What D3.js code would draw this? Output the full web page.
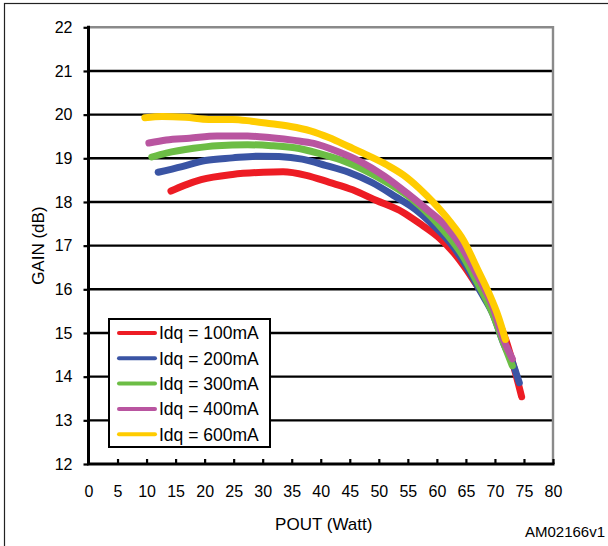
<!DOCTYPE html>
<html>
<head>
<meta charset="utf-8">
<script src="https://cdn.jsdelivr.net/npm/d3@7"></script>
<style>
  body { margin: 0; background: #fff; }
  svg text { font-family: "Liberation Sans", Arial, sans-serif; fill: #000; }
</style>
</head>
<body>
<div id="plot"></div>
<script>
var W = 608, H = 546;

// Series: POUT (Watt) and GAIN (dB)
var pout100 = [14.2, 16.5, 19.4, 24.8, 30.1, 33.5, 37.5, 41.5, 45.5, 49.5, 54.2, 56.9, 60.2, 62.9, 64.9, 66.9, 68.9, 70.7, 72.1, 73.3, 74.0, 74.6];
var gain100 = [18.25, 18.38, 18.51, 18.63, 18.68, 18.69, 18.61, 18.45, 18.28, 18.04, 17.76, 17.52, 17.2, 16.84, 16.49, 16.09, 15.69, 15.25, 14.75, 14.2, 13.85, 13.54];

var pout200 = [12.0, 16.1, 20.1, 24.8, 29.3, 32.8, 36.8, 40.8, 44.8, 48.9, 52.9, 56.2, 59.6, 62.2, 64.9, 67.6, 69.6, 71.6, 73.0, 73.6, 74.2];
var gain200 = [18.68, 18.81, 18.95, 19.01, 19.05, 19.04, 18.98, 18.84, 18.68, 18.44, 18.12, 17.84, 17.44, 17.08, 16.57, 15.93, 15.45, 14.73, 14.33, 14.10, 13.86];

var pout300 = [10.9, 13.4, 18.1, 22.1, 27.4, 31.5, 35.5, 39.5, 43.5, 47.5, 51.5, 55.6, 58.9, 61.6, 64.3, 66.9, 69.6, 71.6, 73.0];
var gain300 = [19.03, 19.12, 19.23, 19.29, 19.31, 19.29, 19.24, 19.12, 18.96, 18.73, 18.44, 18.08, 17.68, 17.28, 16.80, 16.17, 15.45, 14.73, 14.25];

var pout400 = [10.4, 13.4, 17.4, 22.1, 27.4, 31.5, 35.5, 38.8, 42.8, 46.9, 50.9, 54.9, 58.2, 61.6, 64.3, 66.9, 69.6, 71.6, 73.0];
var gain400 = [19.35, 19.42, 19.46, 19.51, 19.51, 19.47, 19.41, 19.34, 19.16, 18.92, 18.60, 18.20, 17.84, 17.44, 16.96, 16.33, 15.61, 14.81, 14.41];

var pout600 = [9.7, 12.7, 16.7, 20.7, 24.8, 28.1, 31.5, 34.8, 38.2, 41.5, 44.8, 48.2, 51.5, 54.2, 56.9, 59.6, 62.2, 64.6, 66.9, 68.9, 70.6, 71.8];
var gain600 = [19.93, 19.96, 19.94, 19.89, 19.89, 19.85, 19.79, 19.73, 19.63, 19.47, 19.27, 19.06, 18.84, 18.62, 18.32, 17.96, 17.56, 17.12, 16.49, 15.93, 15.37, 14.85];

var seriesNames = ["Idq = 100mA", "Idq = 200mA", "Idq = 300mA", "Idq = 400mA", "Idq = 600mA"];
var seriesColors = ["#ed1c24", "#3a54a4", "#6cbd45", "#b955a0", "#ffcc00"];
var xTicks = d3.range(0, 81, 5);
var yTicks = d3.range(12, 23, 1);

var series = [
    [pout100, gain100],
    [pout200, gain200],
    [pout300, gain300],
    [pout400, gain400],
    [pout600, gain600]
].map(function(s, i) {
    return {
        name: seriesNames[i],
        color: seriesColors[i],
        values: s[0].map(function(p, j) { return {x: p, y: s[1][j]}; })
    };
});

var plotLeft = 88.5, plotRight = 553, plotTop = 27.3, plotBottom = 464;

var svg = d3.select("#plot").append("svg")
    .attr("width", W)
    .attr("height", H)
    .attr("viewBox", "0 0 " + W + " " + H);

// outer frame
svg.append("rect")
    .attr("x", 4.5).attr("y", 3.5)
    .attr("width", 700).attr("height", 700)
    .attr("fill", "none")
    .attr("stroke", "#222")
    .attr("stroke-width", 1.2);

var x = d3.scaleLinear().domain([0, 80]).range([plotLeft, plotRight]);
var y = d3.scaleLinear().domain([12, 22]).range([plotBottom, plotTop]);

// horizontal gridlines
svg.append("g").selectAll("line")
    .data(yTicks.filter(function(d) { return d > 12 && d < 22; }))
    .join("line")
        .attr("x1", plotLeft).attr("x2", plotRight)
        .attr("y1", function(d) { return y(d); })
        .attr("y2", function(d) { return y(d); })
        .attr("stroke", "#000")
        .attr("stroke-width", 2.4);

// top and right border (gray)
svg.append("path")
    .attr("d", "M" + plotLeft + "," + plotTop + "H" + plotRight + "V" + plotBottom)
    .attr("fill", "none")
    .attr("stroke", "#8a8a8a")
    .attr("stroke-width", 2.4);

// axes
var gy = svg.append("g")
    .attr("transform", "translate(" + plotLeft + ",0)")
    .call(d3.axisLeft(y).tickValues(yTicks).tickSize(5).tickSizeOuter(0).tickPadding(11));
var gx = svg.append("g")
    .attr("transform", "translate(0," + plotBottom + ")")
    .call(d3.axisBottom(x).tickValues(xTicks).tickSize(-5).tickSizeOuter(0).tickPadding(22));

[gx, gy].forEach(function(g) {
    g.select(".domain").remove();
    g.selectAll(".tick line").attr("stroke", "#000").attr("stroke-width", 2.2);
    g.selectAll(".tick text").attr("font-size", 16).attr("fill", "#000")
        .style("font-family", "Liberation Sans, Arial, sans-serif");
});
gx.selectAll(".tick").filter(function(d) { return d === 0; }).select("line").remove();

svg.append("path")
    .attr("d", "M" + plotLeft + "," + plotTop + "V" + plotBottom + "H" + plotRight)
    .attr("fill", "none")
    .attr("stroke", "#000")
    .attr("stroke-width", 3)
    .attr("stroke-linecap", "square");

// curves
var line = d3.line()
    .x(function(d) { return x(d.x); })
    .y(function(d) { return y(d.y); })
    .curve(d3.curveMonotoneX);

svg.append("g").selectAll("path")
    .data(series)
    .join("path")
        .attr("d", function(d) { return line(d.values); })
        .attr("fill", "none")
        .attr("stroke", function(d) { return d.color; })
        .attr("stroke-width", 7)
        .attr("stroke-linecap", "round")
        .attr("stroke-linejoin", "round");

// legend
var lg = svg.append("g");
lg.append("rect")
    .attr("x", 109).attr("y", 319)
    .attr("width", 161).attr("height", 128)
    .attr("fill", "#fff")
    .attr("stroke", "#000")
    .attr("stroke-width", 2);
var item = lg.selectAll("g.item")
    .data(series)
    .join("g")
        .attr("class", "item")
        .attr("transform", function(d, i) { return "translate(0," + (333 + i * 25.3) + ")"; });
item.append("line")
    .attr("x1", 119).attr("x2", 155)
    .attr("stroke", function(d) { return d.color; })
    .attr("stroke-width", 4)
    .attr("stroke-linecap", "round");
item.append("text")
    .attr("x", 159)
    .attr("dy", "0.36em")
    .attr("font-size", 17.5)
    .text(function(d) { return d.name; });

// axis titles
svg.append("text")
    .attr("transform", "translate(44," + ((plotTop + plotBottom) / 2) + ") rotate(-90)")
    .attr("text-anchor", "middle")
    .attr("font-size", 17)
    .text("GAIN (dB)");
svg.append("text")
    .attr("x", (plotLeft + plotRight) / 2 + 3)
    .attr("y", 530)
    .attr("text-anchor", "middle")
    .attr("font-size", 17)
    .text("POUT (Watt)");
svg.append("text")
    .attr("x", 525)
    .attr("y", 537)
    .attr("font-size", 15)
    .text("AM02166v1");
</script>
</body>
</html>
